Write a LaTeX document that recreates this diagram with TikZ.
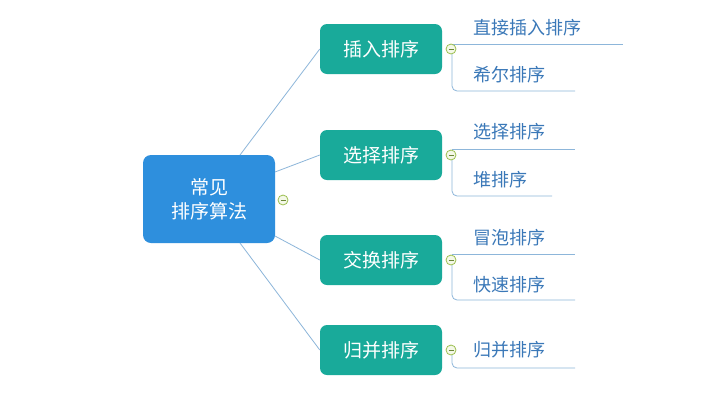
\documentclass[tikz,border=0pt]{standalone}
\usepackage{fontspec}
\setmainfont{Noto Sans CJK SC}
\begin{document}
\begin{tikzpicture}[x=1pt,y=-1pt,
  rootbox/.style={fill=rootblue,rounded corners=8pt,minimum width=132pt,minimum height=88pt,text=white,font=\fontsize{19}{24}\selectfont,align=center,inner sep=0pt},
  midbox/.style={fill=teal1,rounded corners=7pt,minimum width=122pt,minimum height=50pt,text=white,font=\fontsize{19}{24}\selectfont,inner sep=0pt},
  leaf/.style={anchor=west,text=leafblue,font=\fontsize{18}{22}\selectfont,inner sep=0pt},
  link/.style={draw=linkblue,line width=0.8pt},
  tog/.style={circle,draw=togdraw,fill=togfill,line width=0.8pt,minimum size=10pt,inner sep=0pt,path picture={\draw[togdraw!70!black,line width=0.8pt] ([xshift=-2.5pt]path picture bounding box.center)--([xshift=2.5pt]path picture bounding box.center);}}]
\definecolor{rootblue}{HTML}{2E8FDD}
\definecolor{teal1}{HTML}{19AA9A}
\definecolor{leafblue}{HTML}{3A78B8}
\definecolor{linkblue}{HTML}{8DB6DA}
\definecolor{togdraw}{HTML}{9BBF4F}
\definecolor{togfill}{HTML}{F4F8E8}
\useasboundingbox[fill=white] (0,0) rectangle (712,408);
\node[rootbox] (root) at (209,199) {常见\\排序算法};
\node[midbox] (m1) at (381,49) {插入排序};
\node[midbox] (m2) at (381,155) {选择排序};
\node[midbox] (m3) at (381,260) {交换排序};
\node[midbox] (m4) at (381,350) {归并排序};
\coordinate (r1) at (240,155);
\coordinate (r2) at (275,172);
\coordinate (r3) at (275,236);
\coordinate (r4) at (240,243);
\draw[link] (r1) -- (m1.west);
\draw[link] (r2) -- (m2.west);
\draw[link] (r3) -- (m3.west);
\draw[link] (r4) -- (m4.west);
\node[tog] (t0) at (283,200) {};
% leaves
\node[leaf] (l1) at (473,28) {直接插入排序};
\node[leaf] (l2) at (473,75) {希尔排序};
\node[leaf] (l3) at (473,132) {选择排序};
\node[leaf] (l4) at (473,180) {堆排序};
\node[leaf] (l5) at (473,238) {冒泡排序};
\node[leaf] (l6) at (473,285) {快速排序};
\node[leaf] (l7) at (473,350) {归并排序};
\coordinate (u1) at (623,44); \coordinate (u2) at (575,91);
\coordinate (u3) at (575,149); \coordinate (u4) at (552,196);
\coordinate (u5) at (575,254); \coordinate (u6) at (575,300);
\coordinate (u7) at (575,368);
\draw[link,rounded corners=5pt] (452,44) -- (u1);
\draw[link,rounded corners=5pt] (452,49) -- (452,91) -- (u2);
\draw[link] (452,149) -- (u3);
\draw[link,rounded corners=5pt] (452,155) -- (452,196) -- (u4);
\draw[link] (452,254) -- (u5);
\draw[link,rounded corners=5pt] (452,260) -- (452,300) -- (u6);
\draw[link,rounded corners=5pt] (452,350) -- (452,368) -- (u7);
\node[tog] (t1) at (451,49) {};
\node[tog] (t2) at (451,155) {};
\node[tog] (t3) at (451,260) {};
\node[tog] (t4) at (451,350) {};
\end{tikzpicture}
\end{document}
